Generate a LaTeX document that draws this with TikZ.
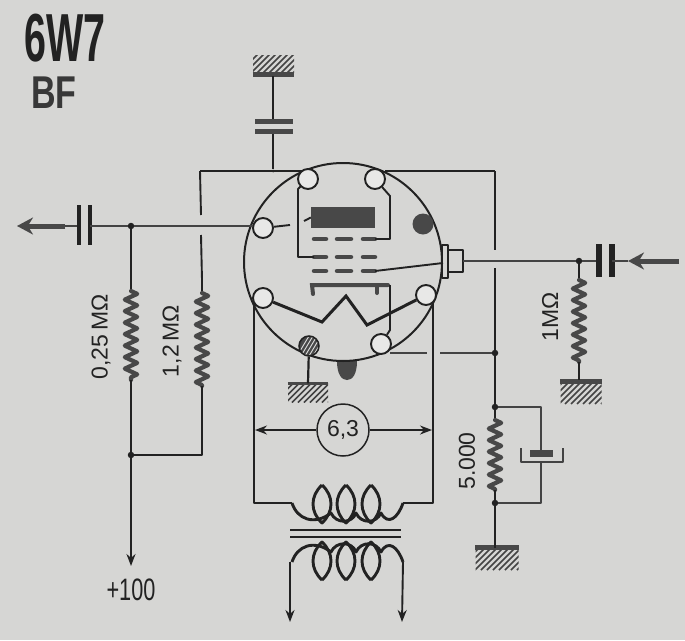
\documentclass[tikz,border=0pt]{standalone}
\usepackage{graphicx}
\usepackage{fontspec}
\setmainfont{Liberation Sans}
\usetikzlibrary{arrows.meta,decorations.pathmorphing}
\definecolor{paper}{HTML}{D6D6D4}
\definecolor{ink}{HTML}{222222}
\definecolor{plategray}{HTML}{484848}
\tikzset{
  wire/.style={draw=ink,line width=1.9pt,line join=round},
  thinwire/.style={draw=ink!85,line width=1.4pt,line join=round},
  pinnode/.style={circle,draw=ink,line width=1.9pt,fill=paper!55!white,minimum size=20pt,inner sep=0pt},
  junct/.style={circle,fill=ink,minimum size=6.5pt,inner sep=0pt},
  res/.style={draw=plategray,line width=4.2pt,line join=round,line cap=round,decorate,decoration={zigzag,amplitude=6.2pt,segment length=11.5pt}},
  capplate/.style={draw=ink,line width=4.5pt},
  gridbar/.style={draw=plategray,line width=4.5pt,line cap=round},
  bigarrow/.style={draw=plategray,line width=5pt,-{Stealth[length=16pt,width=17pt]}},
  smallarrow/.style={draw=ink,line width=1.9pt,-{Stealth[length=12pt,width=9pt]}},
  hatchbox/.style={minimum width=40pt,minimum height=17pt,inner sep=0pt,
    path picture={\foreach \d in {-52,-46,...,44}{
      \draw[ink!85,line width=1.6pt] ([xshift=\d pt]path picture bounding box.south) -- ++(24,-24);}}},
  gndbar/.style={draw=plategray,line width=5pt},
  coilwire/.style={draw=ink,line width=2.9pt,line join=round},
  lbl/.style={font=\fontsize{23}{23}\selectfont,text=ink,inner sep=0pt},
}
\newcommand{\coilshape}{%
  \foreach \cx in {-24,0,25}{
    \draw[coilwire] (\cx,-19) .. controls (\cx-12,-8) and (\cx-12,8) .. (\cx,19) .. controls (\cx+12,8) and (\cx+12,-8) .. (\cx,-19);}
  \draw[coilwire] (-54,-1) .. controls (-49,15) and (-32,22) .. (-15,9)
     .. controls (-10,20) and (6,20) .. (10,9)
     .. controls (15,20) and (30,20) .. (35,9)
     .. controls (42,22) and (52,14) .. (57,-1);
}
\begin{document}
\begin{tikzpicture}[x=1pt,y=-1pt]
\useasboundingbox[fill=paper] (0,0) rectangle (685,640);

% title
\node[inner sep=0pt,text=ink,xscale=.58] (title) at (65,38) {\fontsize{68}{68}\selectfont\bfseries 6W7};
\node[inner sep=0pt,text=ink!90,xscale=.74] (sub) at (54,93) {\fontsize{46}{46}\selectfont\bfseries BF};

% tube
\fill[plategray] (337,361) .. controls (337,375) and (342,380) .. (347,380) .. controls (352,380) and (357,375) .. (357,361) -- cycle;
\node[circle,draw=ink,line width=2pt,minimum size=198pt,inner sep=0pt,fill=paper] (tube) at (343,262) {};
% side cap
\draw[wire,fill=paper] (442,245) rectangle (448,278);
\draw[wire,fill=paper] (448,250) rectangle (463,272);
\coordinate (capend) at (463,261);

% pins
\node[pinnode] (pTL) at (308,179) {};
\node[pinnode] (pTR) at (375,179) {};
\node[pinnode] (pL)  at (263,228) {};
\node[pinnode] (pLL) at (263,298) {};
\node[pinnode] (pLR) at (426,295) {};
\node[pinnode] (pBR) at (381,344) {};
\node[circle,draw=ink,line width=1.5pt,minimum size=20pt,inner sep=0pt,
  path picture={\fill[plategray] (path picture bounding box.south west) rectangle (path picture bounding box.north east);
  \foreach \d in {-12,-8,...,12}{\draw[paper!80!white,line width=.9pt] ([xshift=\d pt]path picture bounding box.south) -- ++(12,-20);}}] (pBL) at (309,346) {};
\node[circle,fill=plategray,minimum size=21pt,inner sep=0pt] (dot) at (423,224) {};

% electrodes
\node[fill=plategray,minimum width=64pt,minimum height=21pt,inner sep=0pt] (plate) at (343,217.5) {};
\foreach \n/\y in {a/239,b/257,c/271}{
  \foreach \m/\xa/\xb in {1/314/326,2/337/351,3/363/375}{
    \draw[gridbar] (\xa,\y) -- (\xb,\y);
    \coordinate (g\n\m) at (\xb,\y);
    \coordinate (s\n\m) at (\xa,\y);
  }
}
% suppressor
\draw[draw=plategray,line width=4pt,line cap=round] (313,294) -- (312,285) -- (388,285);
\draw[draw=plategray,line width=4pt,line cap=round] (377,285) -- (377,293);
\coordinate (supp) at (390,285);
\coordinate (suppb) at (390,330);
\draw[wire] (supp) -- (suppb) -- (pBR);
% wires inside
\coordinate (w1) at (298,189);
\coordinate (w2) at (298,257);
\draw[wire] (pTL) -- (w1) -- (w2) -- (sb1);
\coordinate (w3) at (390,196);
\coordinate (w4) at (390,239);
\draw[wire] (pTR) -- (w3) -- (w4) -- (ga3);
\coordinate (w5) at (290,225);
\draw[wire] (pL) -- (w5);
\coordinate (w6) at (304,221);
\draw[wire] (plate.west) -- (w6);
\coordinate (capin) at (443,263);
\draw[wire] (gc3) -- (capin);
% heater
\coordinate (h1) at (322,322);
\coordinate (h2) at (346,296);
\coordinate (h3) at (367,325);
\draw[draw=ink,line width=3pt,line join=miter] (pLL) -- (h1) -- (h2) -- (h3) -- (pLR);

% top bus and decoupling capacitor
\coordinate (busL) at (200,171);
\coordinate (busTL) at (302,171);
\coordinate (busTR) at (385,171);
\coordinate (busR) at (495,171);
\node[junct,minimum size=3pt] (jtop) at (273,171) {};
\draw[wire] (busTL) -- (busL);
\draw[wire] (busTR) -- (busR);
\node[hatchbox,minimum width=41pt] (g1) at (273.5,64) {};
\draw[gndbar] ([yshift=-2pt]g1.south west) -- ([yshift=-2pt]g1.south east);
\coordinate (g1f) at (273,76);
\coordinate (c1a) at (273,122);
\coordinate (c1b) at (273,131);
\draw[wire,line width=2.4pt] (g1f) -- (c1a);
\draw[wire,line width=2.4pt] (c1b) -- (jtop);
\draw[draw=plategray,line width=5pt] (255,121) -- (293,121);
\draw[draw=plategray,line width=5pt] (255,131) -- (293,131);

% left output
\coordinate (aL) at (17,226);
\coordinate (aLe) at (65,226);
\draw[bigarrow] (aLe) -- (aL);
\coordinate (cLa) at (79,226);
\coordinate (cLb) at (90,226);
\coordinate (pLw) at (253,226);
\draw[thinwire] (aLe) -- (cLa);
\draw[capplate] (79,205) -- (79,245);
\draw[capplate] (90,205) -- (90,245);
\node[junct] (jL) at (131,226) {};
\draw[thinwire] (cLb) -- (jL) -- (pLw);

% resistors left
\coordinate (r1t) at (131,291);
\coordinate (r1b) at (131,380);
\node[junct] (jL2) at (131,455) {};
\coordinate (plus) at (131,566);
\draw[wire] (jL) -- (r1t);
\path[res] (r1t) -- (r1b);
\draw[wire] (r1b) -- (jL2);
\draw[smallarrow] (jL2) -- (plus);
\coordinate (r2t) at (202,293);
\coordinate (r2b) at (202,386);
\coordinate (r2c) at (202,455);
\coordinate (b1) at (201,215);
\coordinate (b2) at (201,235);
\coordinate (b3) at (202,280);
\draw[wire] (busL) -- (b1);
\draw[wire] (b2) -- (b3) -- (r2t);
\path[res] (r2t) -- (r2b);
\draw[wire] (r2b) -- (r2c) -- (jL2);
\node[lbl,rotate=90] (l1) at (101,337) {0,25\,MΩ};
\node[lbl,rotate=90] (l2) at (172,341) {1,2\,MΩ};
\node[lbl] (l3) at (131,590) {\scalebox{.7}[1]{\fontsize{31}{31}\selectfont +100}};

% right bus
\coordinate (bR1) at (495,250);
\coordinate (bR2) at (495,268);
\node[junct] (j1) at (495,353) {};
\node[junct] (j2) at (495,407) {};
\node[junct] (j3) at (495,503) {};
\node[hatchbox,minimum width=43pt,minimum height=22pt] (g4) at (497,559) {};
\draw[gndbar] (g4.north west) -- (g4.north east);
\draw[wire] (busR) -- (bR1);
\draw[wire,line width=2.3pt] (bR2) -- (j1) -- (j2);
\coordinate (r3t) at (495,420);
\coordinate (r3b) at (495,490);
\coordinate (g4t) at (495,548);
\draw[wire] (j2) -- (r3t);
\path[res] (r3t) -- (r3b);
\draw[wire,line width=2.3pt] (r3b) -- (j3) -- (g4t);
\coordinate (e1) at (541,407);
\coordinate (e2) at (541,450);
\coordinate (e3) at (541,462);
\coordinate (e4) at (541,503);
\draw[thinwire] (j2) -- (e1) -- (e2);
\draw[thinwire] (e3) -- (e4) -- (j3);
\node[fill=plategray,minimum width=23pt,minimum height=7pt,inner sep=0pt] (eplate) at (541,453) {};
\draw[thinwire] (521,448) -- (521,462) -- (563,462) -- (563,448);
\node[lbl,rotate=90] (l4) at (467,461) {5.000};
% anode return
\coordinate (ar1) at (390,353);
\coordinate (ar2) at (427,353);
\coordinate (ar3) at (440,353);
\draw[thinwire] (ar1) -- (ar2);
\draw[thinwire] (ar3) -- (j1);

% right input
\node[junct] (jR) at (579,261) {};
\draw[thinwire] (capend) -- (jR);
\coordinate (cRa) at (599,261);
\coordinate (cRb) at (612,261);
\draw[thinwire] (jR) -- (cRa);
\draw[capplate,line width=5.5pt] (599,244) -- (599,277);
\draw[capplate,line width=5.5pt] (612,244) -- (612,277);
\coordinate (aR) at (628,261);
\coordinate (aRe) at (679,261);
\draw[thinwire] (cRb) -- (aR);
\draw[bigarrow] (aRe) -- (aR);
\coordinate (r4t) at (579,280);
\coordinate (r4b) at (579,362);
\coordinate (g3t) at (579,380);
\node[hatchbox,minimum width=41pt,minimum height=22pt] (g3) at (581,393) {};
\draw[gndbar] (g3.north west) -- (g3.north east);
\draw[wire] (jR) -- (r4t);
\path[res] (r4t) -- (r4b);
\draw[wire] (r4b) -- (g3t);
\node[lbl,rotate=90] (l5) at (550,317) {1MΩ};

% pin ground
\node[hatchbox,minimum height=19pt] (g2) at (308,393) {};
\draw[gndbar,line width=3.5pt] (g2.north west) -- (g2.north east);
\draw[wire,line width=2.2pt] (pBL) -- (g2.north);

% heater supply
\coordinate (hL0) at (254,304);
\coordinate (hL1) at (254,503);
\coordinate (hL2) at (292,503);
\coordinate (hR0) at (433,304);
\coordinate (hR1) at (433,503);
\coordinate (hR2) at (403,503);
\draw[wire,line width=2.2pt] (hL0) -- (hL1) -- (hL2);
\draw[wire,line width=2.2pt] (hR0) -- (hR1) -- (hR2);
\node[circle,draw=ink,line width=1.5pt,minimum size=52pt,inner sep=0pt,fill=paper,text=ink] (volt) at (343,430) {\fontsize{23}{23}\selectfont 6,3};
\coordinate (vL) at (255,430);
\coordinate (vR) at (432,430);
\draw[smallarrow,line width=1.4pt] (volt) -- (vL);
\draw[smallarrow,line width=1.4pt] (volt) -- (vR);

% transformer
\begin{scope}[shift={(346,504)}]
\coilshape
\end{scope}
\draw[draw=ink,line width=2pt] (290,530) -- (401,530);
\draw[draw=ink,line width=2pt] (290,537) -- (401,537);
\begin{scope}[shift={(346,561)},yscale=-1]
\coilshape
\end{scope}
\coordinate (s1) at (290,562);
\coordinate (s2) at (403,562);
\coordinate (s1e) at (290,622);
\coordinate (s2e) at (402,622);
\draw[smallarrow] (s1) -- (s1e);
\draw[smallarrow] (s2) -- (s2e);
\end{tikzpicture}
\end{document}
